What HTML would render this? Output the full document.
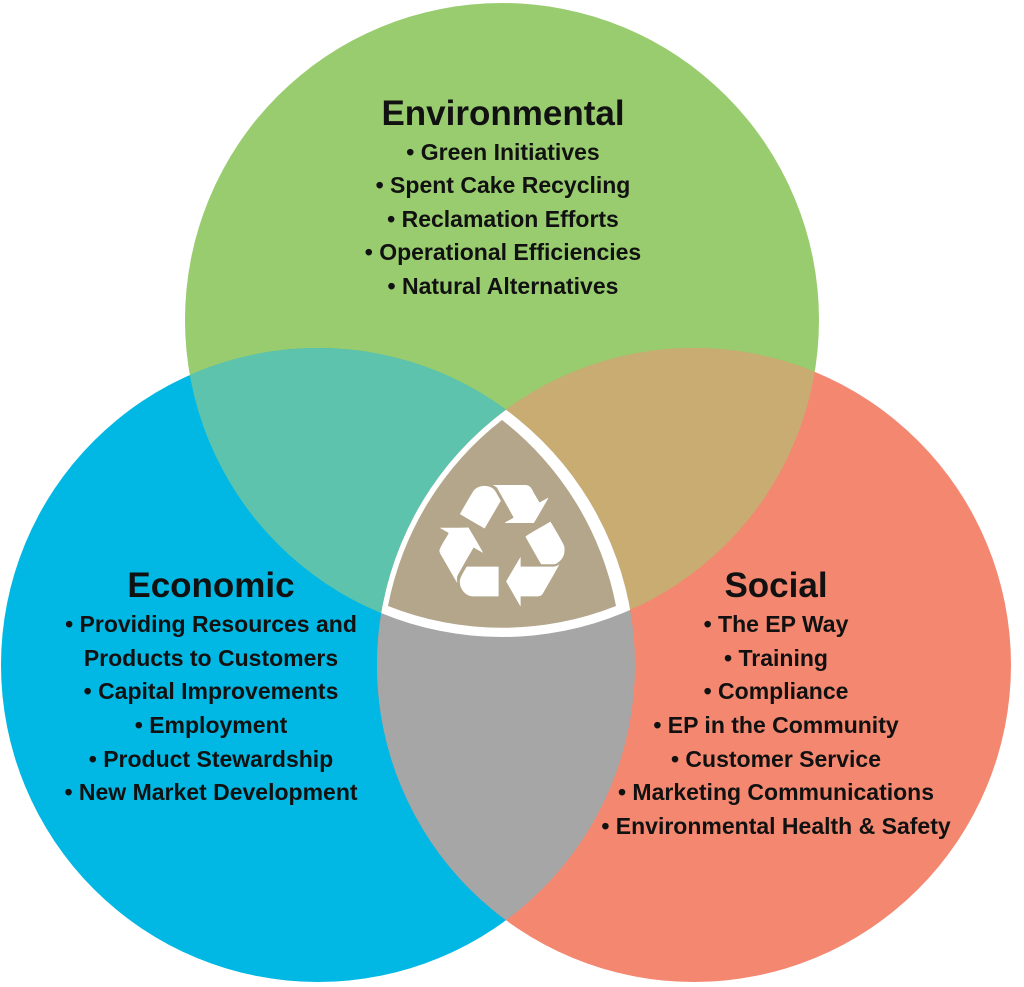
<!DOCTYPE html>
<html><head><meta charset="utf-8"><style>
html,body{margin:0;padding:0;background:#fff}
svg{display:block}
text{font-family:"Liberation Sans Narrow","Liberation Sans",sans-serif;font-weight:bold;fill:#111}
.t{font-size:35px}
.i{font-size:23px}
</style></head><body>
<svg width="1024" height="987" viewBox="0 0 1024 987" xmlns="http://www.w3.org/2000/svg">
<defs>
<clipPath id="g"><circle cx="502" cy="320" r="317"/></clipPath>
<clipPath id="b"><circle cx="318" cy="665" r="317"/></clipPath>
<clipPath id="r"><circle cx="694" cy="665" r="317"/></clipPath>
</defs>
<circle cx="502" cy="320" r="317" fill="#99cc6f"/>
<circle cx="318" cy="665" r="317" fill="#00b8e3"/>
<circle cx="694" cy="665" r="317" fill="#f38770"/>
<g clip-path="url(#g)"><circle cx="318" cy="665" r="317" fill="#5ec3ac"/><circle cx="694" cy="665" r="317" fill="#c9ac72"/></g>
<g clip-path="url(#b)"><circle cx="694" cy="665" r="317" fill="#a6a6a6"/></g>
<g clip-path="url(#g)"><g clip-path="url(#b)"><circle cx="694" cy="665" r="317" fill="#fff"/></g></g>
<g clip-path="url(#g)"><g clip-path="url(#b)"><g clip-path="url(#r)"><path d="M502 420 A309 309 0 0 1 616 606 A309 309 0 0 1 388 606 A309 309 0 0 1 502 420 Z" fill="#b3a68a"/></g></g></g>
<text x="502" y="606" text-anchor="middle" style="font-family:'DejaVu Sans',sans-serif;font-size:172px;font-weight:normal;fill:#fff">♻</text>

<text class="t" x="503" y="125" text-anchor="middle">Environmental</text>
<text class="i" x="503" y="160" text-anchor="middle">• Green Initiatives</text>
<text class="i" x="503" y="193" text-anchor="middle">• Spent Cake Recycling</text>
<text class="i" x="503" y="227" text-anchor="middle">• Reclamation Efforts</text>
<text class="i" x="503" y="260" text-anchor="middle">• Operational Efficiencies</text>
<text class="i" x="503" y="294" text-anchor="middle">• Natural Alternatives</text>

<text class="t" x="211" y="597" text-anchor="middle">Economic</text>
<text class="i" x="211" y="632" text-anchor="middle">• Providing Resources and</text>
<text class="i" x="211" y="666" text-anchor="middle">Products to Customers</text>
<text class="i" x="211" y="699" text-anchor="middle">• Capital Improvements</text>
<text class="i" x="211" y="733" text-anchor="middle">• Employment</text>
<text class="i" x="211" y="767" text-anchor="middle">• Product Stewardship</text>
<text class="i" x="211" y="800" text-anchor="middle">• New Market Development</text>

<text class="t" x="776" y="597" text-anchor="middle">Social</text>
<text class="i" x="776" y="632" text-anchor="middle">• The EP Way</text>
<text class="i" x="776" y="666" text-anchor="middle">• Training</text>
<text class="i" x="776" y="699" text-anchor="middle">• Compliance</text>
<text class="i" x="776" y="733" text-anchor="middle">• EP in the Community</text>
<text class="i" x="776" y="767" text-anchor="middle">• Customer Service</text>
<text class="i" x="776" y="800" text-anchor="middle">• Marketing Communications</text>
<text class="i" x="776" y="834" text-anchor="middle">• Environmental Health &amp; Safety</text>
</svg>
</body></html>
